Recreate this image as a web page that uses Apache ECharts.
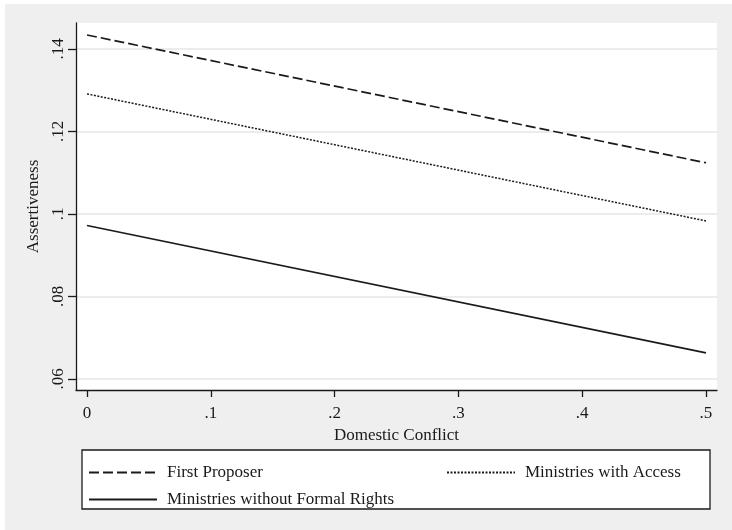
<!DOCTYPE html>
<html>
<head>
<meta charset="utf-8">
<script src="https://cdn.jsdelivr.net/npm/echarts@6/dist/echarts.min.js"></script>
<style>
  html, body { margin: 0; padding: 0; background: #ffffff; }
  #chart { position: absolute; left: 5px; top: 4px; width: 727px; height: 526px; }
</style>
</head>
<body>
<div id="chart"></div>
<script>
// Predicted assertiveness across domestic conflict
const domesticConflict = [0, 0.5];
const firstProposer = [0.1434, 0.1124];
const ministriesWithAccess = [0.1291, 0.0983];
const ministriesWithoutRights = [0.0972, 0.0663];

const xTickValues = [0, 0.1, 0.2, 0.3, 0.4, 0.5];
const xTickLabels = ['0', '.1', '.2', '.3', '.4', '.5'];
const yTickValues = [0.06, 0.08, 0.10, 0.12, 0.14];
const yTickLabels = ['.06', '.08', '.1', '.12', '.14'];

const seriesNames = ['First Proposer', 'Ministries with Access', 'Ministries without Formal Rights'];

const FONT = 'Liberation Serif';
const INK = '#1a1a1a';

function pairs(xs, ys) { return xs.map((x, i) => [x, ys[i]]); }
function labelFor(values, labels) {
  return v => {
    const i = values.findIndex(t => Math.abs(t - v) < 1e-9);
    return i >= 0 ? labels[i] : '';
  };
}

const chart = echarts.init(document.getElementById('chart'), null, { renderer: 'canvas' });

const legendBase = {
  orient: 'horizontal',
  itemWidth: 68,
  itemHeight: 14,
  itemGap: 10,
  padding: 0,
  itemStyle: { opacity: 0 },
  textStyle: { fontFamily: FONT, fontSize: 17, color: INK, padding: [0, 0, 0, 5] },
  selectedMode: false
};

chart.setOption({
  backgroundColor: '#efefef',
  animation: false,
  grid: {
    left: 71, top: 19, width: 641, height: 367,
    show: true, backgroundColor: '#ffffff', borderWidth: 0
  },
  xAxis: {
    type: 'value',
    min: -0.0089, max: 0.5089,
    name: 'Domestic Conflict',
    nameLocation: 'middle',
    nameGap: 30,
    nameTextStyle: { fontFamily: FONT, fontSize: 17, color: INK },
    axisLine: { show: true, onZero: false, lineStyle: { color: INK, width: 1.3 } },
    axisTick: { show: true, length: 7, customValues: xTickValues, lineStyle: { color: INK, width: 1.3 } },
    axisLabel: {
      customValues: xTickValues,
      formatter: labelFor(xTickValues, xTickLabels),
      fontFamily: FONT, fontSize: 17, color: INK, margin: 15
    },
    splitLine: { show: false }
  },
  yAxis: {
    type: 'value',
    min: 0.0573, max: 0.1463,
    name: 'Assertiveness',
    nameLocation: 'middle',
    nameRotate: 90,
    nameGap: 30,
    nameTextStyle: { fontFamily: FONT, fontSize: 17, color: INK },
    axisLine: { show: true, onZero: false, lineStyle: { color: INK, width: 1.3 } },
    axisTick: { show: true, length: 8, customValues: yTickValues, lineStyle: { color: INK, width: 1.3 } },
    axisLabel: {
      customValues: yTickValues,
      formatter: labelFor(yTickValues, yTickLabels),
      rotate: 90,
      fontFamily: FONT, fontSize: 17, color: INK, margin: 9
    },
    splitLine: { show: true, lineStyle: { color: '#e6e6e6', width: 1.5 } }
  },
  legend: [
    Object.assign({}, legendBase, { data: [seriesNames[0]], left: 83, top: 460 }),
    Object.assign({}, legendBase, { data: [seriesNames[1]], left: 441, top: 460 }),
    Object.assign({}, legendBase, { data: [seriesNames[2]], left: 83, top: 487 })
  ],
  graphic: [{
    type: 'rect',
    shape: { x: 77, y: 446, width: 628, height: 59 },
    style: { fill: '#ffffff', stroke: INK, lineWidth: 1.3 },
    z: -1, silent: true
  }],
  series: [
    {
      name: seriesNames[0], type: 'line', showSymbol: false, symbol: 'none',
      data: pairs(domesticConflict, firstProposer),
      lineStyle: { color: INK, width: 1.7, type: [10, 4] },
      itemStyle: { color: INK }
    },
    {
      name: seriesNames[1], type: 'line', showSymbol: false, symbol: 'none',
      data: pairs(domesticConflict, ministriesWithAccess),
      lineStyle: { color: INK, width: 1.5, type: [2, 1.5] },
      itemStyle: { color: INK }
    },
    {
      name: seriesNames[2], type: 'line', showSymbol: false, symbol: 'none',
      data: pairs(domesticConflict, ministriesWithoutRights),
      lineStyle: { color: INK, width: 1.7, type: 'solid' },
      itemStyle: { color: INK }
    }
  ]
});
</script>
</body>
</html>
